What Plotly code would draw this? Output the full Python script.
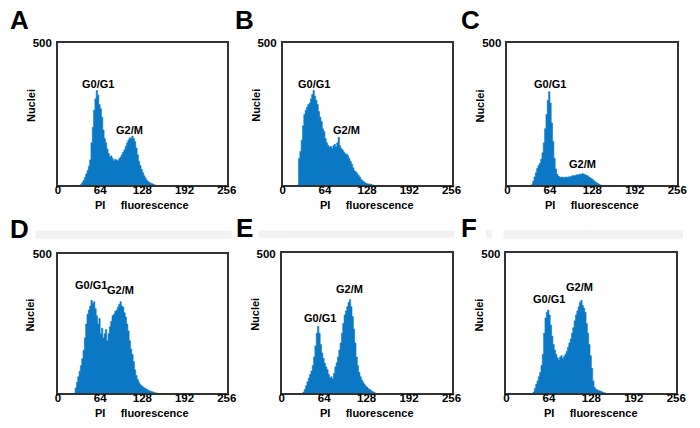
import plotly.graph_objects as go

# PI fluorescence channel (bin start, 2-channel bins)
channels = [20, 22, 24, 26, 28, 30, 32, 34, 36, 38,
            40, 42, 44, 46, 48, 50, 52, 54, 56, 58,
            60, 62, 64, 66, 68, 70, 72, 74, 76, 78,
            80, 82, 84, 86, 88, 90, 92, 94, 96, 98,
            100, 102, 104, 106, 108, 110, 112, 114, 116, 118,
            120, 122, 124, 126, 128, 130, 132, 134, 136, 138,
            140, 142, 144, 146, 148, 150, 152, 154, 156, 158,
            160]

nuclei_A = [0, 0, 0, 0, 0, 0, 0, 3, 10, 17,
            28, 40, 52, 68, 90, 150, 205, 265, 305, 334,
            318, 285, 270, 240, 195, 165, 150, 128, 112, 100,
            104, 95, 88, 92, 90, 86, 94, 100, 108, 118,
            126, 138, 150, 160, 168, 165, 174, 165, 155, 132,
            108, 85, 70, 56, 45, 34, 26, 18, 14, 10,
            8, 6, 4, 2, 0, 0, 0, 0, 0, 0,
            0]

nuclei_B = [0, 0, 95, 120, 160, 210, 250, 265, 275, 285,
            290, 305, 320, 334, 315, 300, 285, 260, 240, 225,
            200, 190, 165, 150, 142, 135, 138, 130, 140, 145,
            135, 150, 170, 140, 130, 125, 118, 112, 110, 105,
            95, 85, 75, 62, 52, 48, 42, 36, 30, 22,
            17, 13, 10, 7, 6, 4, 5, 3, 2, 0,
            0, 0, 0, 0, 0, 0, 0, 0, 0, 0,
            0]

nuclei_C = [0, 0, 0, 0, 0, 0, 0, 0, 3, 15,
            30, 45, 60, 70, 78, 92, 115, 150, 200, 250,
            300, 330, 290, 220, 155, 95, 58, 40, 33, 30,
            28, 30, 27, 29, 30, 28, 31, 30, 33, 35,
            34, 36, 38, 37, 40, 38, 42, 40, 38, 36,
            34, 30, 27, 24, 20, 16, 12, 9, 6, 3,
            1, 0, 0, 0, 0, 0, 0, 0, 0, 0,
            0]

nuclei_D = [0, 0, 0, 20, 40, 60, 80, 100, 125, 155,
            200, 250, 285, 300, 315, 335, 325, 330, 305, 280,
            250, 270, 215, 235, 200, 215, 230, 190, 215, 240,
            260, 280, 285, 295, 300, 310, 320, 330, 315, 310,
            290, 275, 250, 225, 190, 160, 140, 115, 85, 65,
            50, 40, 32, 28, 24, 20, 18, 15, 12, 10,
            8, 6, 5, 3, 2, 1, 0, 0, 0, 0,
            0]

nuclei_E = [0, 0, 0, 0, 0, 0, 5, 15, 28, 42,
            55, 68, 80, 100, 130, 170, 215, 240, 215, 175,
            145, 125, 108, 95, 85, 68, 55, 60, 52, 72,
            95, 110, 130, 155, 180, 215, 250, 280, 295, 310,
            325, 335, 310, 275, 230, 180, 130, 100, 75, 60,
            48, 40, 32, 26, 22, 17, 14, 10, 7, 4,
            2, 0, 0, 0, 0, 0, 0, 0, 0, 0,
            0]

nuclei_F = [0, 0, 0, 0, 0, 0, 0, 0, 0, 0,
            5, 18, 33, 45, 60, 75, 100, 140, 215, 270,
            290, 298, 280, 245, 205, 175, 155, 140, 128, 120,
            130, 135, 125, 132, 140, 150, 165, 180, 195, 215,
            235, 260, 280, 295, 310, 325, 333, 315, 305, 290,
            250, 215, 175, 135, 90, 45, 22, 15, 13, 11,
            9, 7, 5, 3, 2, 0, 0, 0, 0, 0,
            0]

x_ticks = [0, 64, 128, 192, 256]
x_tick_labels = ["0", "64", "128", "192", "256"]
y_ticks = [500]
y_tick_labels = ["500"]

panel_letters = ["A", "B", "C", "D", "E", "F"]
series = [nuclei_A, nuclei_B, nuclei_C, nuclei_D, nuclei_E, nuclei_F]

W, H = 700, 428
BLUE = "#0B78C5"
FONT = "Liberation Sans"

# plot boxes in page pixels: (left, right, top, bottom)
boxes = [(56, 228, 38, 182), (285, 457, 38, 182), (514, 687, 38, 182),
         (56, 228, 252, 393), (284, 457, 251, 393), (513, 686, 251, 393)]
letter_pos = [(17, 14), (246, 14), (476, 14), (17, 226), (246, 225), (475, 225)]
# peak labels: (text, x px, y px)
peak_labels = [
    [("G0/G1", 97, 79), ("G2/M", 129, 126)],
    [("G0/G1", 317, 79), ("G2/M", 350, 126)],
    [("G0/G1", 557, 79), ("G2/M", 590, 160)],
    [("G0/G1", 90, 283), ("G2/M", 120, 288)],
    [("G0/G1", 323, 316), ("G2/M", 353, 287)],
    [("G0/G1", 556, 297), ("G2/M", 587, 285)],
]

def px(x):
    return x / W

def py(y):
    return 1 - y / H

fig = go.Figure()
annotations = []
shapes = []

for i, (vals, box) in enumerate(zip(series, boxes)):
    n = i + 1
    xa = "x" if n == 1 else f"x{n}"
    ya = "y" if n == 1 else f"y{n}"
    fig.add_trace(go.Scatter(
        x=channels, y=vals, xaxis=xa, yaxis=ya, mode="lines",
        line=dict(width=0.6, color=BLUE, shape="hv"),
        fill="tozeroy", fillcolor=BLUE, hoverinfo="skip"))
    l, r, t, b = box
    axis_common = dict(showline=True, mirror=True, linecolor="#333333", linewidth=1.5,
                       showgrid=False, zeroline=False, ticks="", ticklen=0,
                       tickfont=dict(family=FONT, size=11.5, color="black", weight="bold"))
    fig.update_layout(**{
        ("xaxis" if n == 1 else f"xaxis{n}"): dict(
            domain=[px(l), px(r)], range=[0, 256], anchor=ya,
            tickvals=x_ticks, ticktext=x_tick_labels, ticklabelstandoff=-7, **axis_common),
        ("yaxis" if n == 1 else f"yaxis{n}"): dict(
            domain=[py(b), py(t)], range=[0, 500], anchor=xa,
            tickvals=y_ticks, ticktext=y_tick_labels, ticklabelstandoff=2, **axis_common),
    })
    # panel letter
    lx, ly = letter_pos[i]
    annotations.append(dict(text=panel_letters[i], x=px(lx), y=py(ly), xref="paper", yref="paper",
                            showarrow=False, xanchor="center", yanchor="middle",
                            font=dict(family=FONT, size=26, color="black", weight="bold")))
    # axis titles
    annotations.append(dict(text="Nuclei", x=px(l - 28), y=py((t + b) / 2 - 9), xref="paper", yref="paper",
                            showarrow=False, textangle=-90, xanchor="center", yanchor="middle",
                            font=dict(family=FONT, size=11, color="black", weight="bold")))
    annotations.append(dict(text="PI\u00a0\u00a0\u00a0\u00a0\u00a0fluorescence", x=px((l + r) / 2),
                            y=py(b + 20), xref="paper", yref="paper",
                            showarrow=False, xanchor="center", yanchor="middle",
                            font=dict(family=FONT, size=11, color="black", weight="bold")))
    for txt, tx, ty in peak_labels[i]:
        annotations.append(dict(text=txt, x=px(tx), y=py(ty), xref="paper", yref="paper",
                                showarrow=False, xanchor="center", yanchor="middle",
                                font=dict(family=FONT, size=11, color="black", weight="bold")))

# faint grey strips beside the lower panel letters
for (x0, x1, y0, y1) in [(33, 233, 228, 236), (260, 460, 228, 235), (510, 693, 227, 236), (492, 498, 227, 236)]:
    shapes.append(dict(type="rect", xref="paper", yref="paper", x0=px(x0), x1=px(x1), y0=py(y1), y1=py(y0),
                       fillcolor="#f2f2f2", line=dict(width=0), layer="below"))

fig.update_layout(width=W, height=H, margin=dict(l=0, r=0, t=0, b=0),
                  paper_bgcolor="white", plot_bgcolor="white", showlegend=False,
                  annotations=annotations, shapes=shapes)

fig.write_html("out.html", config={"displayModeBar": False},
               post_script="document.body.style.margin='0';document.body.style.padding='0';")
